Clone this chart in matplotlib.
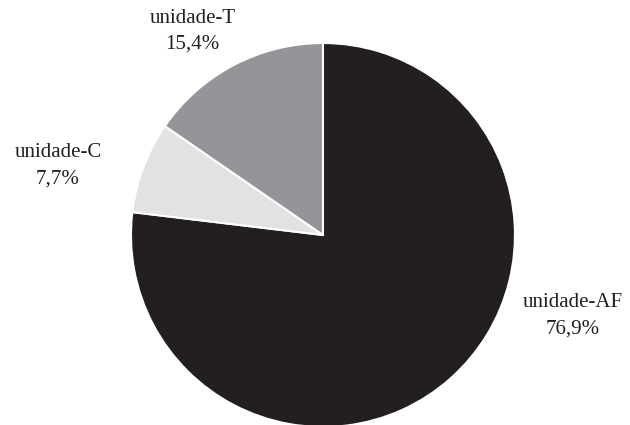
import matplotlib
matplotlib.use("Agg")
import matplotlib.pyplot as plt

labels = ["unidade-AF", "unidade-C", "unidade-T"]
values = [76.9, 7.7, 15.4]
pct_text = ["76,9%", "7,7%", "15,4%"]
colors = ["#231f20", "#e1e2e3", "#939598"]

# label positions (data coords, pie radius = 1)
label_xy = [(1.30, -0.42), (-1.38, 0.36), (-0.68, 1.06)]

plt.rcParams["font.family"] = ["Liberation Serif", "DejaVu Serif"]

fig = plt.figure(figsize=(6.3, 4.25), dpi=100)
ax = fig.add_axes([0.2079, -0.0047, 0.6095, 0.9035])

ax.pie(values, colors=colors, startangle=90, counterclock=False,
       wedgeprops=dict(edgecolor="white", linewidth=1.5))

for (x, y), lab, p in zip(label_xy, labels, pct_text):
    ax.text(x, y, lab + "\n" + p, ha="center", va="center", fontsize=15,
            color="#231f20", linespacing=1.5, clip_on=False)

ax.set_xlim(-1, 1)
ax.set_ylim(-1, 1)
ax.set_aspect("equal")
ax.axis("off")

fig.savefig("out.png", dpi=100)
